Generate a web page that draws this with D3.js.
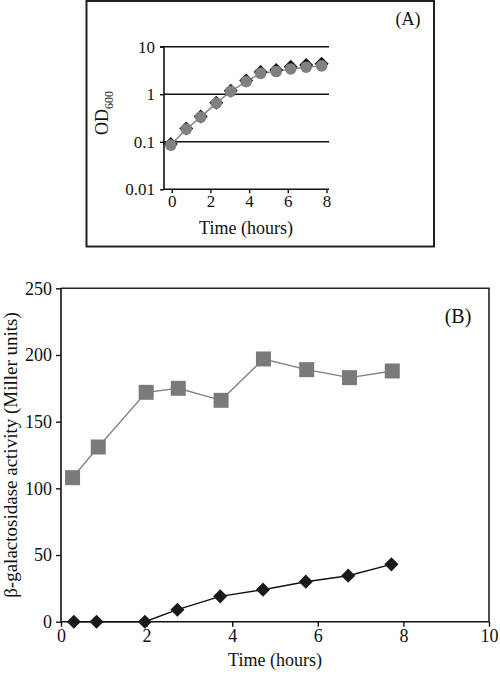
<!DOCTYPE html>
<html><head><meta charset="utf-8">
<script src="https://cdn.jsdelivr.net/npm/d3@7"></script>
<style>
body{margin:0;background:#fff;}
svg{display:block;font-family:"Liberation Serif","Times New Roman",serif;}
</style></head>
<body>
<svg id="c" width="500" height="676"></svg>
<script>
// Panel A data
const timeA = [-0.05, 0.75, 1.5, 2.3, 3.05, 3.85, 4.6, 5.4, 6.15, 6.95, 7.75];
const odDiamond = [0.09, 0.19, 0.34, 0.66, 1.18, 1.95, 2.95, 3.25, 3.8, 4.1, 4.4];
const odCircle = [0.085, 0.185, 0.33, 0.65, 1.15, 1.85, 2.75, 3.0, 3.4, 3.7, 3.95];
const ticksAy = [0.01, 0.1, 1, 10];
const tickLabelsAy = ["0.01", "0.1", "1", "10"];
const ticksAx = [0, 2, 4, 6, 8];

// Panel B data
const timeSq = [0.27, 0.87, 1.99, 2.74, 3.74, 4.73, 5.74, 6.74, 7.74];
const actSq = [108, 131, 172, 175, 166, 197, 189, 183, 188];
const timeDi = [0.3, 0.83, 1.96, 2.72, 3.72, 4.72, 5.72, 6.71, 7.72];
const actDi = [0, 0, 0, 9, 19, 24, 30, 34.5, 43];
const ticksBy = [0, 50, 100, 150, 200, 250];
const ticksBx = [0, 2, 4, 6, 8, 10];

const svg = d3.select("#c");

// ---------- Panel A ----------
svg.append("rect").attr("x", 86.5).attr("y", 1).attr("width", 347.5).attr("height", 245.5)
  .attr("fill", "none").attr("stroke", "#222").attr("stroke-width", 2);

const xA = d3.scaleLinear().domain([-0.4, 8.13]).range([164, 329]);
const yA = d3.scaleLog().domain([0.01, 10]).range([189.3, 46.7]);
const gA = svg.append("g");

gA.selectAll("line.grid").data(ticksAy.slice(1)).join("line")
  .attr("x1", xA.range()[0]).attr("x2", xA.range()[1])
  .attr("y1", d => yA(d)).attr("y2", d => yA(d))
  .attr("stroke", "#111").attr("stroke-width", 1.6);

const axAy = d3.axisLeft(yA).tickValues(ticksAy).tickFormat((d, i) => tickLabelsAy[i]).tickSize(4).tickPadding(5);
const gAy = gA.append("g").attr("transform", `translate(${xA.range()[0]},0)`).call(axAy);
const axAx = d3.axisBottom(xA).tickValues(ticksAx).tickSize(4).tickPadding(2);
const gAx = gA.append("g").attr("transform", `translate(0,${yA.range()[0]})`).call(axAx);
[gAy, gAx].forEach(g => {
  g.select(".domain").attr("stroke", "#111").attr("stroke-width", 1.6);
  g.selectAll(".tick line").attr("stroke", "#111").attr("stroke-width", 1.4);
  g.selectAll("text").attr("font-size", 17).attr("fill", "#111").attr("font-family", "Liberation Serif");
});
gAy.select(".domain").attr("d", `M-4,${yA.range()[1]}H0V${yA.range()[0]}`);
gAx.select(".domain").attr("d", `M${xA.range()[0]},0H${xA.range()[1]}`);

const lineA = d3.line().x((d, i) => xA(timeA[i])).y(d => yA(d));
gA.append("path").datum(odCircle).attr("d", lineA).attr("fill", "none").attr("stroke", "#888").attr("stroke-width", 1.5);
gA.selectAll("path.dA").data(odDiamond).join("path")
  .attr("d", d3.symbol().type(d3.symbolSquare).size(98))
  .attr("transform", (d, i) => `translate(${xA(timeA[i])},${yA(d)}) rotate(45)`)
  .attr("fill", "#111");
gA.selectAll("circle.cA").data(odCircle).join("circle")
  .attr("cx", (d, i) => xA(timeA[i])).attr("cy", d => yA(d)).attr("r", 5.8)
  .attr("fill", "#808080");

svg.append("text").attr("x", 408).attr("y", 25).attr("text-anchor", "middle").attr("font-size", 18).attr("fill", "#111").text("(A)");
svg.append("text").attr("x", 246).attr("y", 234).attr("text-anchor", "middle").attr("font-size", 18).attr("fill", "#111").text("Time (hours)");
const odLab = svg.append("text").attr("transform", "translate(108,113) rotate(-90)").attr("text-anchor", "middle").attr("font-size", 18).attr("fill", "#111");
odLab.append("tspan").text("OD");
odLab.append("tspan").attr("font-size", 12).attr("dy", 5).text("600");

// ---------- Panel B ----------
const xB = d3.scaleLinear().domain([0, 10]).range([61, 489]);
const yB = d3.scaleLinear().domain([0, 250]).range([621.7, 288.3]);
const gB = svg.append("g");
gB.append("path").attr("d", `M${xB(0)},${yB(250)}H${xB(10)}V${yB(0)}`).attr("fill", "none").attr("stroke", "#222").attr("stroke-width", 1.6);

const axBy = d3.axisLeft(yB).tickValues(ticksBy).tickSize(5).tickPadding(4);
const gBy = gB.append("g").attr("transform", `translate(${xB(0)},0)`).call(axBy);
const axBx = d3.axisBottom(xB).tickValues(ticksBx).tickSize(5).tickPadding(3);
const gBx = gB.append("g").attr("transform", `translate(0,${yB(0)})`).call(axBx);
[gBy, gBx].forEach(g => {
  g.select(".domain").attr("stroke", "#111").attr("stroke-width", 1.6);
  g.selectAll(".tick line").attr("stroke", "#111").attr("stroke-width", 1.4);
  g.selectAll("text").attr("font-size", 18).attr("fill", "#111").attr("font-family", "Liberation Serif");
});
gBy.select(".domain").attr("d", `M0,${yB.range()[1]}V${yB.range()[0]}`);
gBx.select(".domain").attr("d", `M${xB.range()[0]},0H${xB.range()[1]}`);

const lineSq = d3.line().x((d, i) => xB(timeSq[i])).y(d => yB(d));
const lineDi = d3.line().x((d, i) => xB(timeDi[i])).y(d => yB(d));
gB.append("path").datum(actSq).attr("d", lineSq).attr("fill", "none").attr("stroke", "#808080").attr("stroke-width", 1.4);
gB.append("path").datum(actDi).attr("d", lineDi).attr("fill", "none").attr("stroke", "#111").attr("stroke-width", 1.4);
gB.selectAll("path.sq").data(actSq).join("path")
  .attr("d", d3.symbol().type(d3.symbolSquare).size(225))
  .attr("transform", (d, i) => `translate(${xB(timeSq[i])},${yB(d)})`)
  .attr("fill", "#7a7a7a");
gB.selectAll("path.di").data(actDi).join("path")
  .attr("d", d3.symbol().type(d3.symbolSquare).size(100))
  .attr("transform", (d, i) => `translate(${xB(timeDi[i])},${yB(d)}) rotate(45)`)
  .attr("fill", "#1a1a1a");

svg.append("text").attr("x", 458).attr("y", 323).attr("text-anchor", "middle").attr("font-size", 20).attr("fill", "#111").text("(B)");
svg.append("text").attr("x", 275).attr("y", 666).attr("text-anchor", "middle").attr("font-size", 18).attr("fill", "#111").text("Time (hours)");
svg.append("text").attr("transform", `translate(17,${(yB(0) + yB(250)) / 2}) rotate(-90)`).attr("text-anchor", "middle").attr("font-size", 19).attr("fill", "#111").text("β-galactosidase activity (Miller units)");
</script>
</body></html>
